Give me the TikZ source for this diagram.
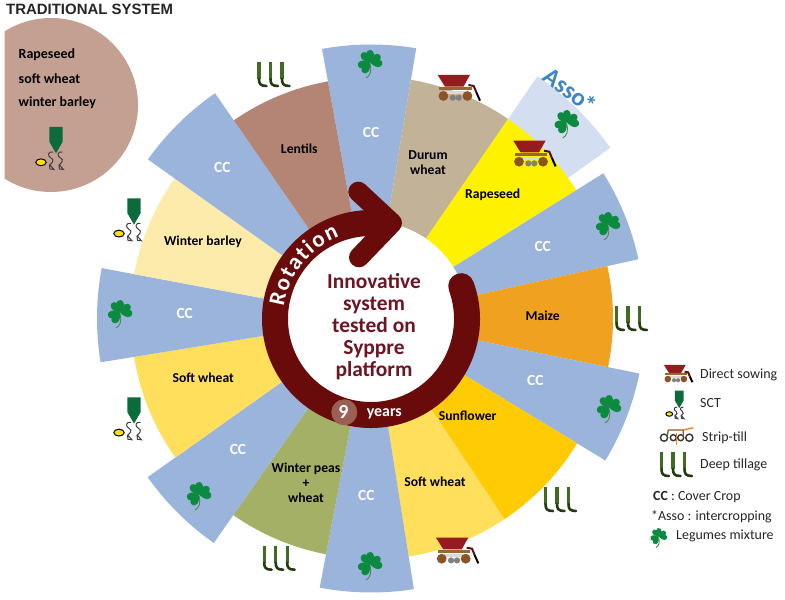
\documentclass[tikz,border=0pt]{standalone}
\usepackage{fontspec}
\setmainfont{Carlito}
\newfontfamily\arialfont{Liberation Sans}
\usetikzlibrary{decorations.text}
\definecolor{ccblue}{HTML}{9BB4DC}
\definecolor{assoblue}{HTML}{D3DEF0}
\definecolor{durum}{HTML}{C2B398}
\definecolor{rapeseed}{HTML}{FFF200}
\definecolor{maize}{HTML}{EFA11F}
\definecolor{sunflower}{HTML}{FFCB05}
\definecolor{softwheat}{HTML}{FFDF5B}
\definecolor{peas}{HTML}{A3B066}
\definecolor{barley}{HTML}{FDEBAB}
\definecolor{lentils}{HTML}{B48474}
\definecolor{ringred}{HTML}{690B0B}
\definecolor{titlered}{HTML}{6E1423}
\definecolor{nineback}{HTML}{9C5F55}
\definecolor{tradbrown}{HTML}{C4A092}
\definecolor{clovergreen}{HTML}{0B8A40}
\definecolor{sctgreen}{HTML}{0B6B3A}
\definecolor{tillgreen}{HTML}{3F6B22}
\definecolor{hopper}{HTML}{951B1E}
\definecolor{wheelbrown}{HTML}{8A5426}
\definecolor{assotext}{HTML}{3D85C6}
\tikzset{
  crop/.style={font=\fontsize{13.7}{15}\selectfont\bfseries,text=black,inner sep=0pt,align=center},
  cclabel/.style={font=\fontsize{15.5}{15.5}\selectfont\bfseries,text=white,inner sep=0pt},
  legendtext/.style={font=\fontsize{14}{14}\selectfont,text=black!85,inner sep=0pt,anchor=west},
  tradtext/.style={font=\fontsize{14}{14}\selectfont\bfseries,text=black,inner sep=0pt,anchor=west}
}
% wheel sector about the centre
\newcommand\wedgesector[4]{\fill[#1] (371,281.5) -- ++(#2:#4) arc[start angle=#2,end angle=#3,radius=#4] -- cycle;}
\newcommand\cloverleaf[3]{%
  \begin{scope}[shift={(#1,#2)},scale=#3]
    \draw[color=green!35!black!70,line width=0.9bp] (1,-1) .. controls (3,-8) and (1,-13) .. (-3,-15);
    \foreach \lobe in {20,-75,125}{
      \fill[clovergreen,shift={(1,0.5)},rotate=\lobe] (0,0) .. controls (-3,2) and (-8,5) .. (-6.5,9.5) .. controls (-5.5,12.5) and (-1,12.5) .. (0,10) .. controls (1,12.5) and (5.5,12.5) .. (6.5,9.5) .. controls (8,5) and (3,2) .. (0,0) -- cycle;
    }
  \end{scope}}
\newcommand\deeptill[2]{%
  \begin{scope}[shift={(#1,#2)}]
    \foreach \dx in {-15.5,-4,7.5}{
      \draw[tillgreen,line width=3.4bp] (\dx,12.5) -- (\dx,-4);
      \draw[tillgreen!55!black,line width=2.6bp,line cap=round] (\dx,-4) .. controls (\dx,-9) and (\dx+1.5,-11) .. (\dx+7.5,-11);
    }
  \end{scope}}
\newcommand\seeder[3]{%
  \begin{scope}[shift={(#1,#2)},scale=#3]
    \fill[hopper] (0,0) -- (32.3,0) -- (25.7,-11.7) -- (7.3,-11.7) -- cycle;
    \fill[brown!80!black] (1.7,-12.5) rectangle (34,-15);
    \fill[black!15] (8,-16) rectangle (28,-19.5);
    \fill[wheelbrown] (5.7,-21) circle[radius=4.9] (29.7,-21) circle[radius=4.9];
    \fill[black!50] (15,-22.7) circle[radius=3.1] (21,-22.7) circle[radius=3.1];
    \draw[hopper!60!black,line width=2bp] (30.7,-10) -- (36,-11) -- (38.5,-17);
    \draw[black,line width=2bp] (38.5,-17) -- (42.3,-25.7);
  \end{scope}}
\newcommand\sctool[3]{%
  \begin{scope}[shift={(#1,#2)},scale=#3]
    \fill[sctgreen] (13.3,0) -- (26.7,0) -- (26.7,-14.7) -- (20,-26.3) -- (13.3,-14.7) -- cycle;
    \foreach \dx in {0,9.5}{
      \draw[black!75,line width=1bp,xshift=\dx] (17,-25) .. controls (12,-24) and (11,-29) .. (15,-31) .. controls (19,-33) and (16,-36) .. (13.5,-38) -- (14,-42) -- (18,-42.5) -- (14,-38);
    }
    \draw[black,fill=yellow!85!orange,line width=1bp] (5,-35.3) ellipse[x radius=5.2,y radius=3.4];
  \end{scope}}
\begin{document}
\begin{tikzpicture}[x=1bp,y=1bp]
\useasboundingbox (0,0) rectangle (785,600);
\fill[white] (0,0) rectangle (785,600);
% traditional system disc
\begin{scope}
  \clip (4.5,0) rectangle (200,600);
  \fill[tradbrown] (51,495) circle[radius=87];
\end{scope}
\node[font=\arialfont\bfseries\fontsize{15}{15}\selectfont,text=black!85,inner sep=0pt,anchor=west] (tradtitle) at (6,591) {TRADITIONAL SYSTEM};
\node[tradtext] (tradA) at (18.5,545) {Rapeseed};
\node[tradtext] (tradB) at (18.5,521) {soft wheat};
\node[tradtext] (tradC) at (18.5,497) {winter barley};
% sectors
\wedgesector{assoblue}{55.5}{35.5}{294}
\wedgesector{ccblue}{100.3}{80.5}{274}
\wedgesector{durum}{80.5}{55.5}{242}
\wedgesector{rapeseed}{55.5}{32}{242}
\wedgesector{ccblue}{32}{12.5}{274}
\wedgesector{maize}{12.5}{-11.6}{242}
\wedgesector{ccblue}{-11.6}{-31.2}{274}
\wedgesector{sunflower}{-31.2}{-56.4}{241}
\wedgesector{softwheat}{-56.4}{-81}{241}
\wedgesector{ccblue}{-81}{-100.8}{274}
\wedgesector{peas}{-100.8}{-125}{240}
\wedgesector{ccblue}{-125}{-144.6}{274}
\wedgesector{softwheat}{-144.6}{-170.8}{240}
\wedgesector{ccblue}{-170.8}{-190.6}{274}
\wedgesector{barley}{169.4}{144.5}{241}
\wedgesector{ccblue}{144.5}{124.7}{274}
\wedgesector{lentils}{124.7}{100.3}{241}
% centre
\fill[white] (371,281.5) circle[radius=97];
\draw[ringred,line width=26bp,line cap=round] (371,281) ++(20:96) arc[start angle=20,end angle=-275,radius=96];
\draw[ringred,line width=20bp,line cap=round,line join=round] (358.3,408.3) -- (392,377) -- (359,342.7);
\path[decorate,decoration={text along path,text align=fit to path,text={|\fontsize{23}{23}\selectfont\bfseries\color{white}|Rotation}}]
  (371,281) ++(172:88) arc[start angle=172,end angle=111,radius=88];
\node[font=\fontsize{21.5}{22}\selectfont\bfseries,text=titlered,align=center,inner sep=0pt] (title) at (374,273.5) {Innovative\\system\\tested on\\Syppre\\platform};
\fill[nineback] (344.3,187.7) circle[radius=13];
\node[font=\fontsize{20}{20}\selectfont\bfseries,text=white,inner sep=0pt] (nine) at (343.5,188) {9};
\node[font=\fontsize{16}{16}\selectfont\bfseries,text=white,inner sep=0pt] (years) at (384.3,186) {years};
% crop labels
\node[crop] (durumlab) at (428,437) {Durum\\wheat};
\node[crop] (rapelab) at (492.7,405) {Rapeseed};
\node[crop] (maizelab) at (542.7,284) {Maize};
\node[crop] (sunlab) at (467.7,184) {Sunflower};
\node[crop] (swlab) at (435,118.7) {Soft wheat};
\node[crop] (peaslab) at (306,117) {Winter peas\\+\\wheat};
\node[crop] (swllab) at (203.3,222) {Soft wheat};
\node[crop] (barleylab) at (203,358.7) {Winter barley};
\node[crop] (lentlab) at (299.3,451) {Lentils};
% CC labels
\node[cclabel] (cc1) at (371,468) {CC};
\node[cclabel] (cc2) at (542.7,354) {CC};
\node[cclabel] (cc3) at (535.3,219.3) {CC};
\node[cclabel] (cc4) at (366.3,104.7) {CC};
\node[cclabel] (cc5) at (238,150.7) {CC};
\node[cclabel] (cc6) at (184.7,286.7) {CC};
\node[cclabel] (cc7) at (222.3,432.7) {CC};
\node[font=\fontsize{25}{25}\selectfont\bfseries,text=assotext,inner sep=0pt,rotate=-37] (asso) at (570,510) {Asso\kern-2bp*};
% clovers
\cloverleaf{369}{537}{1}
\cloverleaf{565.7}{477}{1}
\cloverleaf{607}{375}{1}
\cloverleaf{608}{192}{1}
\cloverleaf{369}{35}{1}
\cloverleaf{198}{105}{1}
\cloverleaf{119}{287}{1}
% deep tillage
\deeptill{274.5}{525}
\deeptill{632}{281}
\deeptill{561}{100}
\deeptill{279.7}{41.3}
% seeders
\seeder{437.7}{525}{1}
\seeder{513.3}{459.3}{1}
\seeder{436}{62.3}{1}
% SCT
\sctool{36}{473}{1}
\sctool{114}{401.7}{1}
\sctool{114}{202.7}{1}
% legend
\seeder{664}{235}{0.67}
\sctool{666}{209.3}{0.66}
\begin{scope}
  \foreach \wx/\wr in {664/3.6,673.3/3,680.7/3,689.3/3.6}{
    \draw[black!80,line width=1.4bp] (\wx,162.3) circle[radius=\wr];
  }
  \draw[brown!70!black,line width=1.3bp] (667,163) -- (668.3,170) -- (683.3,170) -- (683.3,163);
  \draw[orange!70!brown,line width=1.3bp] (683.3,170) -- (693.3,172.3);
  \draw[orange!70!brown,line width=1bp] (676.7,167) -- (676.7,155);
\end{scope}
\deeptill{677}{135}
\node[legendtext] (lgA) at (700,225) {Direct sowing};
\node[legendtext] (lgB) at (700,197) {SCT};
\node[legendtext] (lgC) at (702,162) {Strip-till};
\node[legendtext] (lgD) at (700,135) {Deep tillage};
\node[legendtext] (lgE) at (653,103) {\textbf{CC} : Cover Crop};
\node[legendtext] (lgF) at (651,83) {*Asso : intercropping};
\cloverleaf{658}{63}{0.7}
\node[legendtext] (lgG) at (676,64) {Legumes mixture};
\end{tikzpicture}
\end{document}
